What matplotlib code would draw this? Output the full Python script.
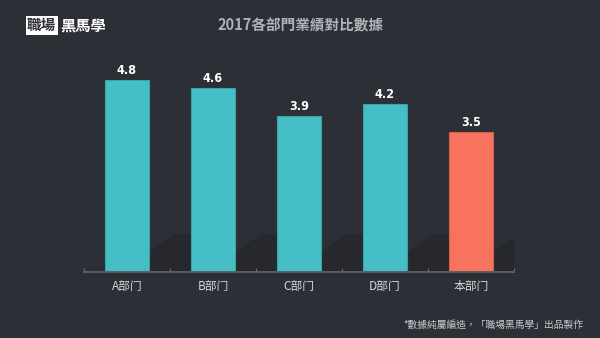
import matplotlib.pyplot as plt
import numpy as np
from matplotlib.patches import Polygon

plt.rcParams['font.family'] = ['Noto Sans CJK TC', 'DejaVu Sans']

departments = ["A部门", "B部门", "C部门", "D部门", "本部门"]
scores = [4.8, 4.6, 3.9, 4.2, 3.5]
bar_colors = ["#45bec6", "#45bec6", "#45bec6", "#45bec6", "#f7735e"]
edge_colors = ["#3aa3aa", "#3aa3aa", "#3aa3aa", "#3aa3aa", "#d9604d"]

bg = "#2d2f36"
fig = plt.figure(figsize=(6, 3.38), dpi=100, facecolor=bg)
ax = fig.add_axes([0.14, 1 - 272 / 338, 0.7167, 212 / 338])
ax.set_facecolor(bg)

x = np.arange(len(departments))
bw = 0.51

# soft diagonal shadows behind bars
for i in x:
    right = i + bw / 2
    shadow = Polygon([(right, 0), (right, 0.5), (right + 0.3, 0.95),
                      (right + 0.49, 0.95), (right + 0.49, 0)],
                     closed=True, facecolor="#25262b", edgecolor="none",
                     alpha=0.7, zorder=1)
    ax.add_patch(shadow)

bars = ax.bar(x, scores, width=bw, color=bar_colors, edgecolor=edge_colors,
              linewidth=0.8, zorder=2)

for b, v in zip(bars, scores):
    ax.text(b.get_x() + b.get_width() / 2, v + 0.08, f"{v}",
            ha="center", va="bottom", color="white", fontsize=9,
            fontweight="bold", fontstretch="condensed",
            family=["DejaVu Sans"], zorder=3)

ax.set_xlim(-0.5, 4.5)
ax.set_ylim(0, 5.3)
ax.set_yticks([])
ax.set_xticks(np.arange(-0.5, 5, 1))
ax.set_xticklabels([])
ax.tick_params(axis="x", direction="in", length=3, color="#6a6c72", width=0.8)
for s in ["top", "right", "left"]:
    ax.spines[s].set_visible(False)
ax.spines["bottom"].set_color("#5c5e64")
ax.spines["bottom"].set_linewidth(1.4)
ax.spines["bottom"].set_zorder(4)

for i, name in enumerate(departments):
    ax.text(i, -0.2, name, ha="center", va="top", color="#d6d7da",
            fontsize=8.5, family=["Noto Sans CJK SC", "DejaVu Sans"])

fig.text(0.5, 0.925, "2017各部門業績對比數據", ha="center", va="center",
         color="#b0b2b8", fontsize=10.5, fontweight="bold")

# logo
fig.text(0.045, 0.925, "職場", ha="left", va="center", color="#2d2f36",
         fontsize=10.5, fontweight="black",
         bbox=dict(boxstyle="square,pad=0.1", facecolor="white",
                   edgecolor="none"))
fig.text(0.1, 0.925, "黑馬學", ha="left", va="center", color="white",
         fontsize=11, fontweight="black")

fig.text(0.972, 0.04, "*數據純屬編造，「職場黑馬學」出品製作", ha="right",
         va="center", color="#c9cacd", fontsize=7)

fig.savefig("out.png", dpi=100, facecolor=bg)
